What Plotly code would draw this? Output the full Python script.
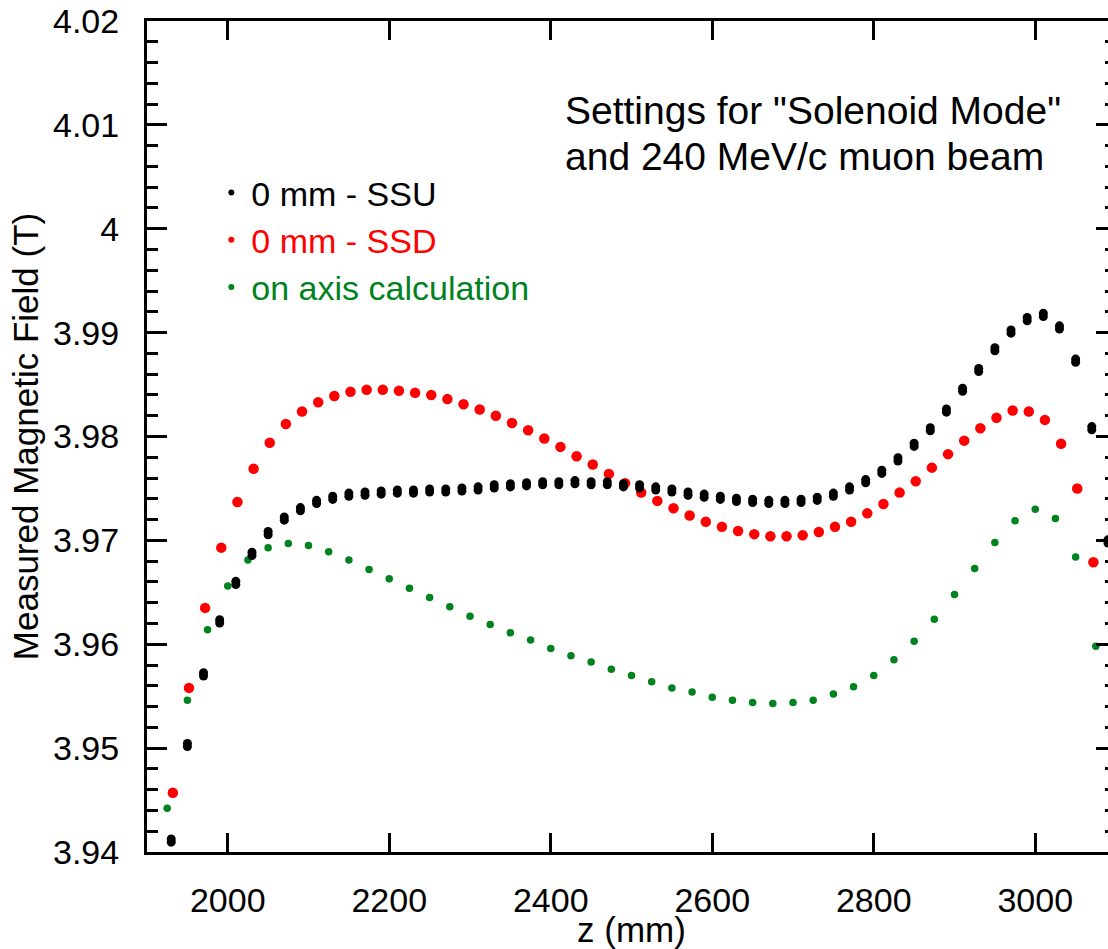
import plotly.graph_objects as go

# ---------------- data ----------------
z_ssu = [1930 + 20 * i for i in range(59)]
b_ssu = [3.9411, 3.9503, 3.9571, 3.9622, 3.9659, 3.9687, 3.9707, 3.9721, 3.9730, 3.9737,
         3.9741, 3.9744, 3.9745, 3.9746, 3.9747, 3.9747, 3.9748, 3.9748, 3.9749, 3.9750,
         3.9752, 3.9753, 3.9754, 3.9755, 3.9755, 3.9756, 3.9755, 3.9755, 3.9753, 3.9752,
         3.9750, 3.9748, 3.9745, 3.9743, 3.9741, 3.9739, 3.9738, 3.9737, 3.9737, 3.9738,
         3.9740, 3.9744, 3.9750, 3.9757, 3.9766, 3.9778, 3.9792, 3.9807, 3.9825, 3.9845,
         3.9864, 3.9884, 3.9901, 3.9913, 3.9917, 3.9905, 3.9873, 3.9808, 3.9699]

z_ssd = [1932 + 20 * i for i in range(58)]
b_ssd = [3.9457, 3.9558, 3.9635, 3.9693, 3.9737, 3.9769, 3.9794, 3.9812, 3.9824, 3.9833,
         3.9839, 3.9843, 3.9845, 3.9845, 3.9844, 3.9842, 3.9840, 3.9836, 3.9831, 3.9826,
         3.9820, 3.9813, 3.9806, 3.9798, 3.9790, 3.9781, 3.9773, 3.9764, 3.9755, 3.9746,
         3.9738, 3.9731, 3.9724, 3.9718, 3.9713, 3.9709, 3.9706, 3.9704, 3.9704, 3.9705,
         3.9708, 3.9713, 3.9718, 3.9726, 3.9735, 3.9746, 3.9757, 3.9770, 3.9783, 3.9796,
         3.9808, 3.9818, 3.9825, 3.9824, 3.9816, 3.9793, 3.9750, 3.9679]

z_calc = [1925 + 25 * i for i in range(47)]
b_calc = [3.9442, 3.9546, 3.9614, 3.9656, 3.9681, 3.9693, 3.9697, 3.9695, 3.9689, 3.9681,
          3.9672, 3.9663, 3.9654, 3.9645, 3.9636, 3.9627, 3.9619, 3.9611, 3.9604, 3.9596,
          3.9589, 3.9583, 3.9576, 3.9570, 3.9564, 3.9558, 3.9554, 3.9549, 3.9546, 3.9544,
          3.9543, 3.9544, 3.9546, 3.9552, 3.9559, 3.9570, 3.9585, 3.9603, 3.9624, 3.9648,
          3.9673, 3.9698, 3.9719, 3.9730, 3.9721, 3.9684, 3.9598]

series_names = ["0 mm - SSU", "0 mm - SSD", "on axis calculation"]
series_colors = ["#000000", "#ff0000", "#00821f"]

x_tickvals = [2000, 2200, 2400, 2600, 2800, 3000]
x_ticktext = ["2000", "2200", "2400", "2600", "2800", "3000"]
y_tickvals = [3.94, 3.95, 3.96, 3.97, 3.98, 3.99, 4.00, 4.01, 4.02]
y_ticktext = ["3.94", "3.95", "3.96", "3.97", "3.98", "3.99", "4", "4.01", "4.02"]

annotation_lines = ['Settings for "Solenoid Mode"', "and 240 MeV/c muon beam"]

# ---------------- figure ----------------
FONT = "Liberation Sans, Arial, sans-serif"
Y_RANGE = [3.94, 4.02]
PLOT_H = 831                      # plot-area height in px
half_px = 1.6 * (Y_RANGE[1] - Y_RANGE[0]) / PLOT_H   # ~1.6 px in data units

fig = go.Figure()

# SSU points are slightly elongated vertically in the original: draw them on two
# invisible overlay axes nudged by +-1.6 px so the union looks like an ellipse.
for ax in ["y2", "y3"]:
    fig.add_trace(go.Scatter(
        x=z_ssu, y=b_ssu, mode="markers", yaxis=ax,
        marker=dict(color=series_colors[0], size=9, line=dict(width=0)),
        showlegend=False, hoverinfo="x+y",
    ))
fig.add_trace(go.Scatter(
    x=z_ssd, y=b_ssd, mode="markers",
    marker=dict(color=series_colors[1], size=10.5, line=dict(width=0)),
    showlegend=False,
))
fig.add_trace(go.Scatter(
    x=z_calc, y=b_calc, mode="markers",
    marker=dict(color=series_colors[2], size=7.5, line=dict(width=0)),
    showlegend=False,
))
# legend entries (small dots, coloured labels as in the original)
for name, col in zip(series_names, series_colors):
    fig.add_trace(go.Scatter(
        x=[None], y=[None], mode="markers",
        marker=dict(color=col, size=6, line=dict(width=0)),
        name=f'<span style="color:{col}">{name}</span>', showlegend=True,
    ))

fig.update_layout(
    width=1117, height=949,
    margin=dict(l=147, r=1, t=21, b=97, autoexpand=False),
    paper_bgcolor="white", plot_bgcolor="white",
    font=dict(family=FONT, size=34, color="black"),
    showlegend=True,
    legend=dict(x=0.0664, y=0.828, xanchor="left", yanchor="top",
                bgcolor="rgba(0,0,0,0)", font=dict(size=34, family=FONT),
                tracegroupgap=0),
)

axis_common = dict(
    showline=True, linecolor="black", linewidth=3, mirror="ticks",
    ticks="inside", tickcolor="black", tickwidth=3,
    showgrid=False, zeroline=False,
    tickfont=dict(family=FONT, size=34, color="black"),
)

fig.update_xaxes(
    range=[1900, 3100], tickmode="array", tickvals=x_tickvals, ticktext=x_ticktext,
    ticklen=19, ticklabelstandoff=16,
    title=dict(text="z (mm)", font=dict(family=FONT, size=35), standoff=0),
    automargin=False,
    **axis_common,
)
fig.update_layout(
    yaxis=dict(
        range=Y_RANGE, tickmode="array", tickvals=y_tickvals, ticktext=y_ticktext,
        ticklen=20, ticklabelstandoff=18,
        minor=dict(dtick=0.002, ticks="inside", ticklen=11, tickwidth=3, tickcolor="black",
                   showgrid=False),
        title=dict(text="Measured Magnetic Field (T)", font=dict(family=FONT, size=35), standoff=4),
        automargin=False,
        **axis_common,
    ),
    yaxis2=dict(overlaying="y", range=[Y_RANGE[0] + half_px, Y_RANGE[1] + half_px],
                visible=False, fixedrange=True),
    yaxis3=dict(overlaying="y", range=[Y_RANGE[0] - half_px, Y_RANGE[1] - half_px],
                visible=False, fixedrange=True),
)

line_y = [0.8917, 0.8375]
for txt, yy in zip(annotation_lines, line_y):
    fig.add_annotation(
        x=(563 - 147) / 969, y=yy, xref="paper", yref="paper",
        text=txt, showarrow=False, xanchor="left", yanchor="middle", align="left",
        font=dict(family=FONT, size=39, color="black"),
    )

fig.write_html(
    "out.html",
    config={"displayModeBar": False},
    post_script="document.documentElement.style.overflow='hidden';document.body.style.overflow='hidden';",
)
